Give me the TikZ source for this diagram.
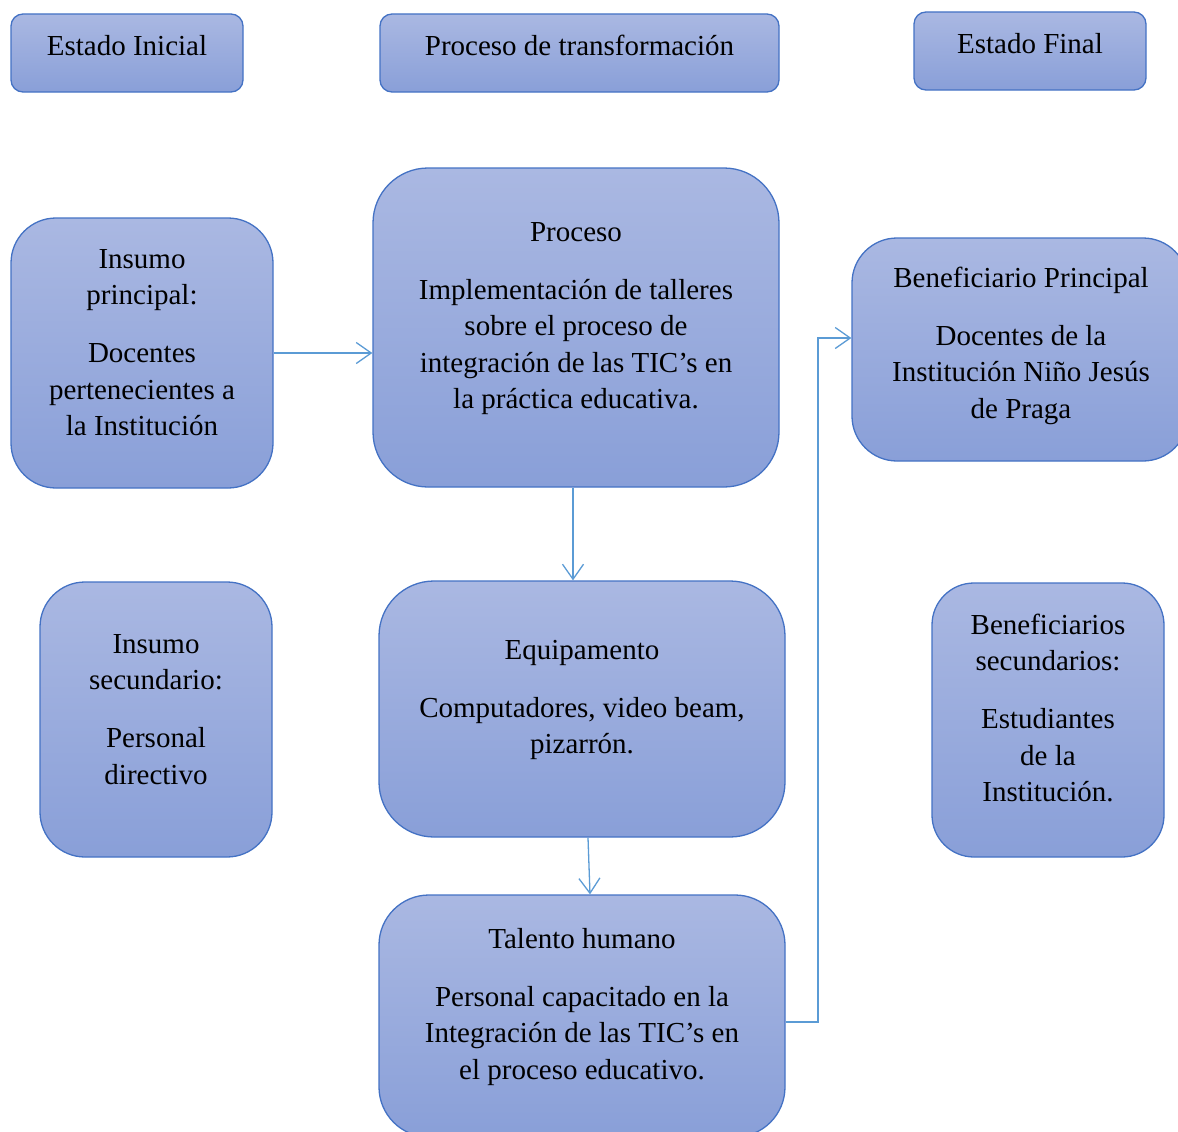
\documentclass[tikz,border=0pt]{standalone}
\usepackage{fontspec}
\setmainfont{Liberation Serif}
\usetikzlibrary{arrows.meta}
\definecolor{boxtop}{RGB}{170,184,226}
\definecolor{boxbot}{RGB}{137,159,216}
\definecolor{boxline}{RGB}{68,114,196}
\definecolor{arrowc}{RGB}{91,155,213}
\tikzset{
  box/.style={draw=boxline, line width=1.3pt, top color=boxtop, bottom color=boxbot, inner sep=0pt},
  txt/.style={align=center, font=\fontsize{29}{36.5}\selectfont, inner sep=0pt, text=black},
  conn/.style={draw=arrowc, line width=1.3pt, -{Straight Barb[length=15pt,width=21pt,line width=1.3pt]}},
}
\begin{document}
\begin{tikzpicture}[x=1pt,y=-1pt]
\useasboundingbox (0,0) rectangle (1178,1132);
\clip (0,0) rectangle (1178,1132);
% header boxes
\node[box, minimum width=232pt, minimum height=78pt, rounded corners=12pt] (ei) at (127,53) {};
\node[box, minimum width=399pt, minimum height=78pt, rounded corners=12pt] (pt) at (579.5,53) {};
\node[box, minimum width=232pt, minimum height=78pt, rounded corners=12pt] (ef) at (1030,51) {};
\node[txt] (eit) at (127,46) {Estado Inicial};
\node[txt] (ptt) at (579.5,45.5) {Proceso de transformación};
\node[txt] (eft) at (1030,44) {Estado Final};
% main boxes
\node[box, minimum width=262pt, minimum height=270pt, rounded corners=45pt] (ip) at (142,353) {};
\node[box, minimum width=406pt, minimum height=319pt, rounded corners=55pt] (pr) at (576,327.5) {};
\node[box, minimum width=336pt, minimum height=223pt, rounded corners=45pt] (bp) at (1020,349.5) {};
\node[box, minimum width=232pt, minimum height=275pt, rounded corners=45pt] (is) at (156,719.5) {};
\node[box, minimum width=406pt, minimum height=256pt, rounded corners=55pt] (eq) at (582,709) {};
\node[box, minimum width=232pt, minimum height=274pt, rounded corners=42pt] (bs) at (1048,720) {};
\node[box, minimum width=406pt, minimum height=242pt, rounded corners=50pt] (ta) at (582,1016) {};
% texts
\node[txt] (ipt) at (142,342.5) {Insumo\\principal:\\[21.5pt]Docentes\\pertenecientes a\\la Institución};
\node[txt] (prt) at (576,318.5) {Proceso\\[21.5pt]Implementación de talleres\\sobre el proceso de\\integración de las TIC’s en\\la práctica educativa.};
\node[txt] (bpt) at (1021,345.5) {Beneficiario Principal\\[21.5pt]Docentes de la\\Institución Niño Jesús\\de Praga};
\node[txt] (ist) at (156,709.5) {Insumo\\secundario:\\[21.5pt]Personal\\directivo};
\node[txt] (eqt) at (582,700) {Equipamento\\[21.5pt]Computadores, video beam,\\pizarrón.};
\node[txt] (bst) at (1048,708) {Beneficiarios\\secundarios:\\[21.5pt]Estudiantes\\de la\\Institución.};
\node[txt] (tat) at (582,1007) {Talento humano\\[21.5pt]Personal capacitado en la\\Integración de las TIC’s en\\el proceso educativo.};
% connectors
\coordinate (jx) at (818,0);
\draw[conn] (ip.east) -- (ip.east -| pr.west);
\draw[conn] ([xshift=-3pt]pr.south) -- ([xshift=-3pt]pr.south |- eq.north);
\draw[conn] ([xshift=6pt]eq.south) -- ([xshift=8pt]ta.north);
\draw[conn] ([yshift=-6pt]ta.east) -- ([yshift=-6pt]ta.east -| jx) -- ([yshift=11.5pt]bp.west -| jx) -- ([yshift=11.5pt]bp.west);
\end{tikzpicture}
\end{document}
